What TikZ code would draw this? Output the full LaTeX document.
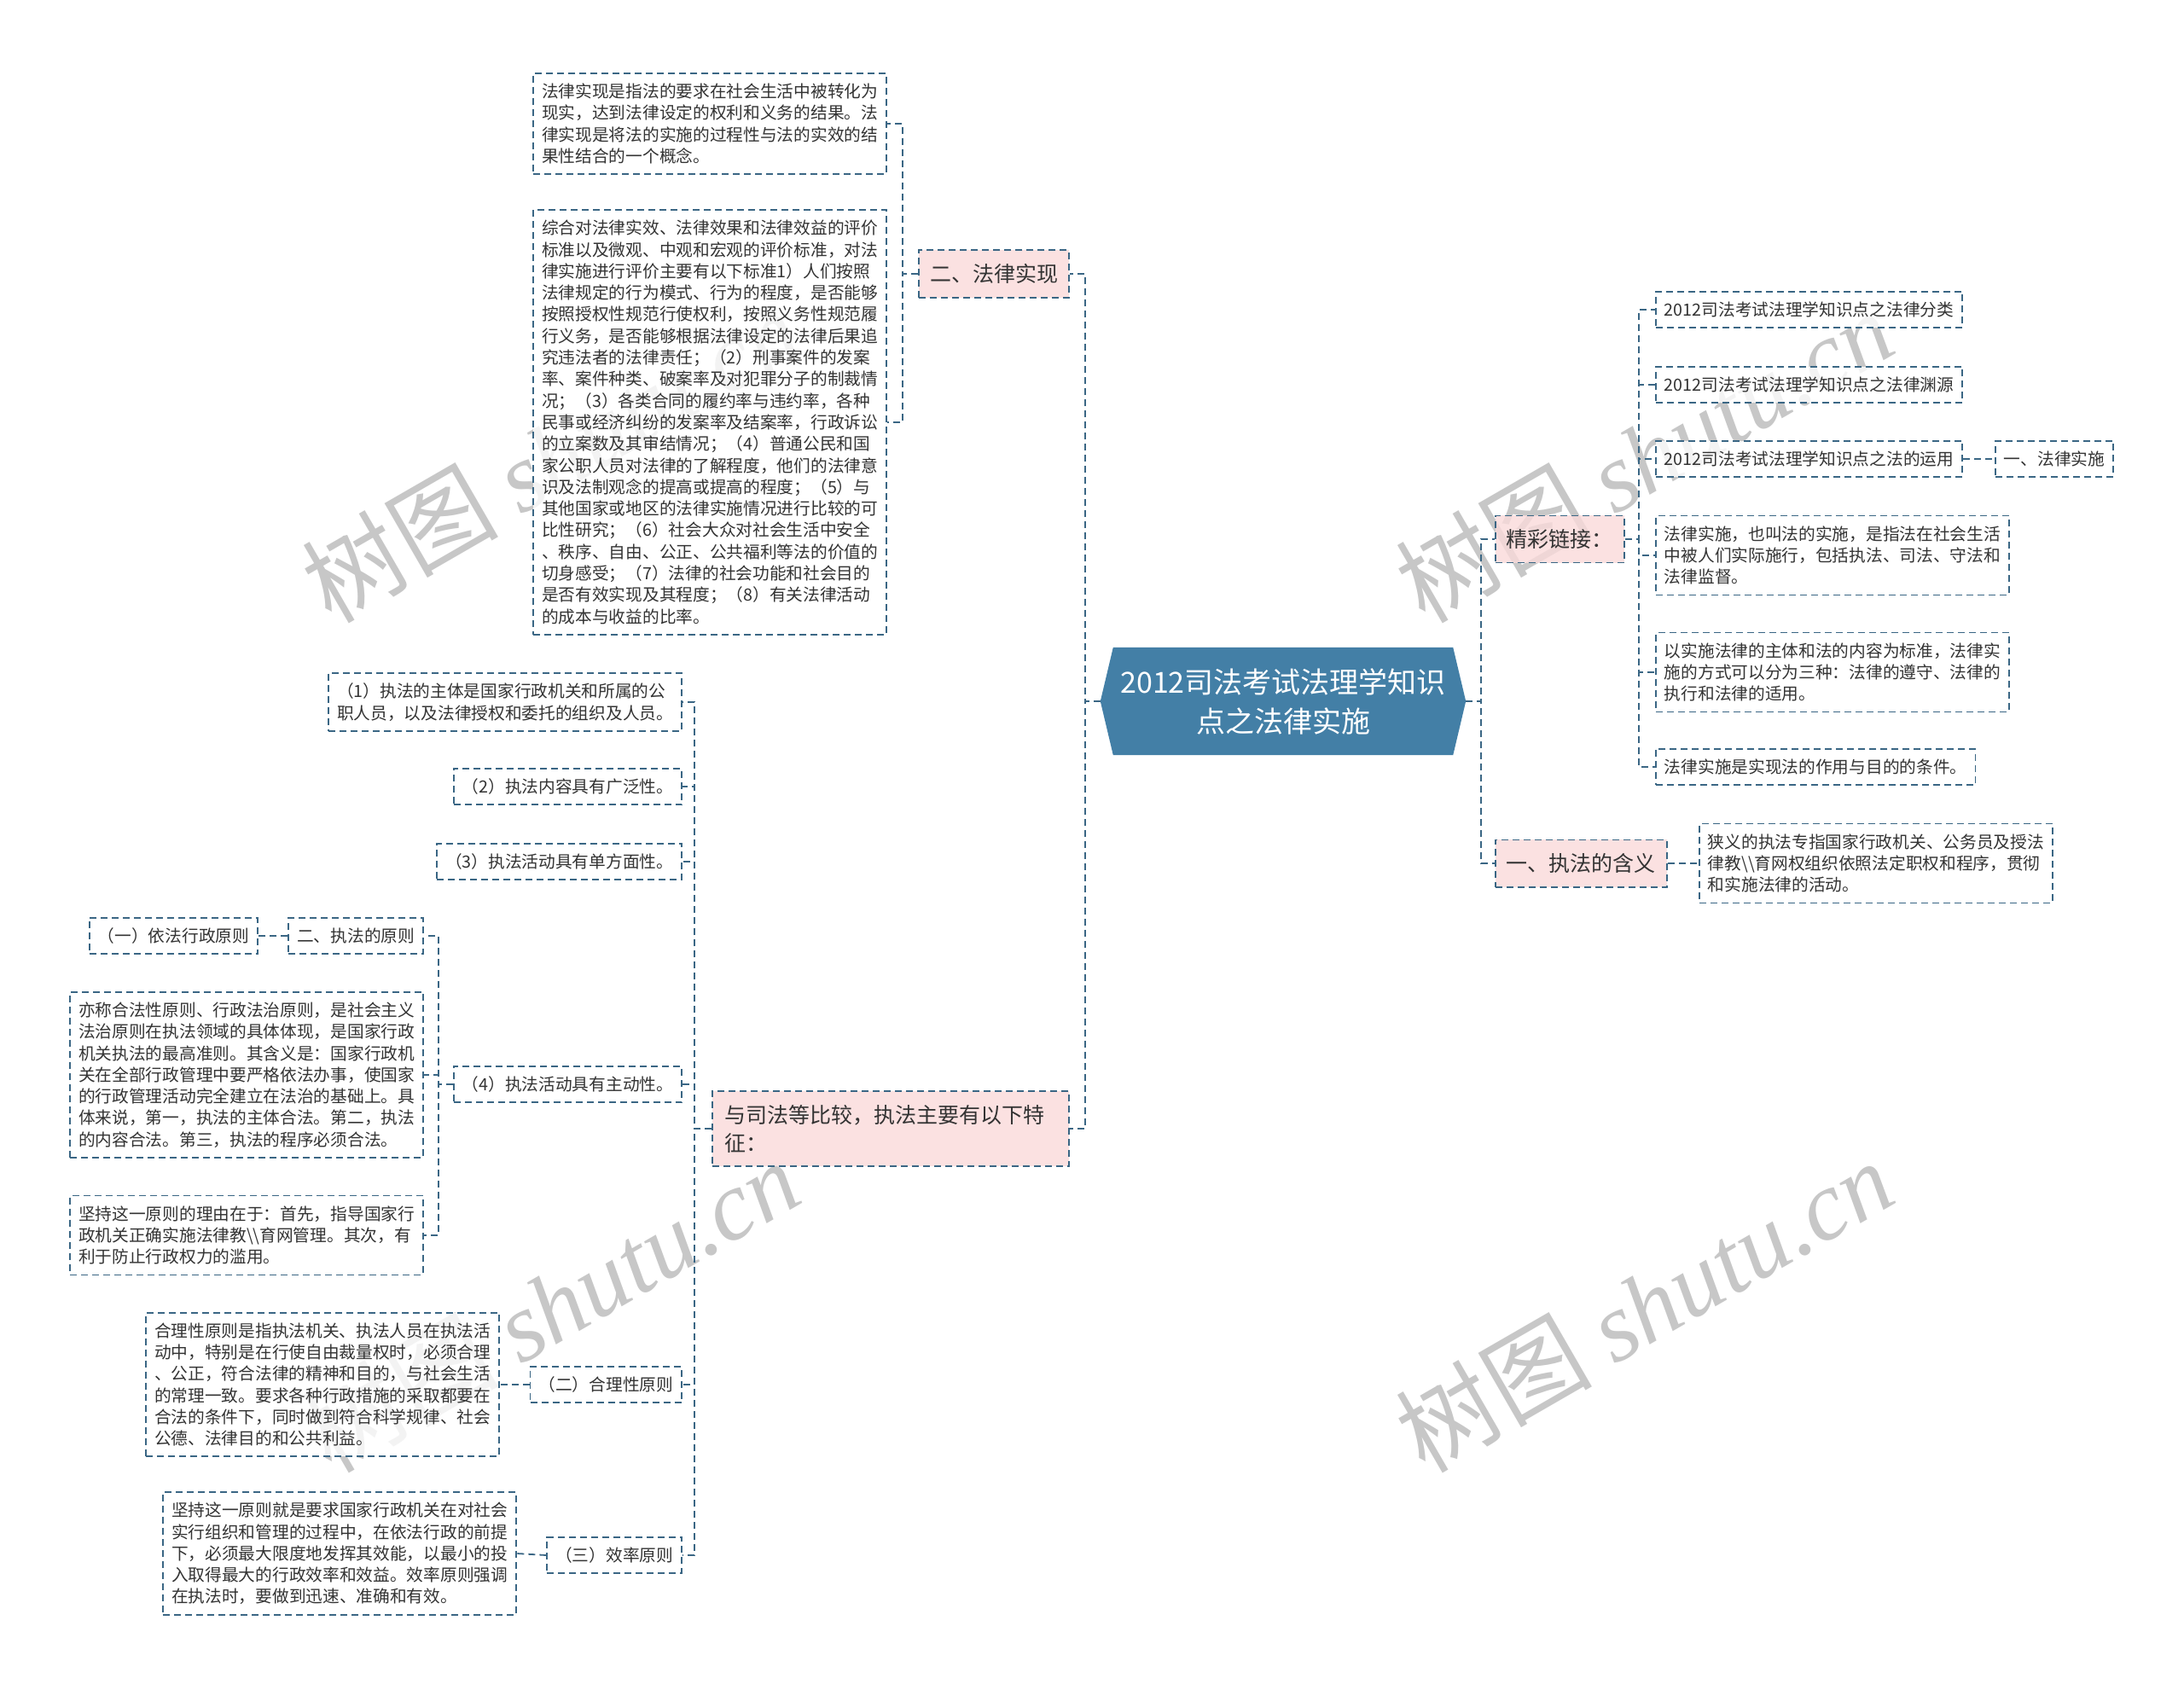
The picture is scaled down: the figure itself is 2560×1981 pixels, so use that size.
\documentclass[tikz,border=0pt]{standalone}
\usepackage{fontspec}
\setmainfont{Noto Sans CJK SC}
\newfontfamily\wmfont{Liberation Serif}
\usetikzlibrary{calc, backgrounds}
\definecolor{lineblue}{RGB}{58,102,132}
\definecolor{rootblue}{RGB}{67,127,166}
\definecolor{topicpink}{RGB}{250,218,218}
\definecolor{txtgray}{RGB}{51,51,51}

\begin{document}
\begin{tikzpicture}[x=1pt, y=-1pt,
  root/.style={minimum width=398pt, minimum height=126pt, inner sep=0pt,
               text=white, align=center, font=\fontsize{34}{46}\selectfont},
  topic/.style={draw=lineblue, line width=1.8pt, dash pattern=on 8pt off 5pt,
                fill=topicpink, fill opacity=0.8, text opacity=1, text=txtgray,
                font=\fontsize{25}{33}\selectfont, inner xsep=13pt, inner ysep=16pt, align=left},
  leaf/.style={draw=lineblue, line width=1.8pt, dash pattern=on 8pt off 5pt,
               fill=white, fill opacity=0.8, text opacity=1, text=txtgray,
               font=\fontsize{19.7}{25.3}\selectfont, inner xsep=10pt, inner ysep=12pt, align=left},
  link/.style={lineblue, line width=1.8pt, dash pattern=on 8pt off 5pt},
  wmark/.style={text=black!22, rotate=30, font=\fontsize{115}{115}\selectfont}
]
\useasboundingbox (0,0) rectangle (2560,1981);

% watermarks
\node[wmark] (wm1) at (645,534)  {树图 {\wmfont\itshape shutu.cn}};
\node[wmark] (wm2) at (1927,534) {树图 {\wmfont\itshape shutu.cn}};
\node[wmark] (wm3) at (645,1530) {树图 {\wmfont\itshape shutu.cn}};
\node[wmark] (wm4) at (1927,1530) {树图 {\wmfont\itshape shutu.cn}};

% centre
\node[root] (root) at (1504,822) {2012司法考试法理学知识\\点之法律实施};
\coordinate (rootL) at ($(root.west)+(-15,0)$);
\coordinate (rootR) at ($(root.east)+(15,0)$);
\begin{scope}[on background layer]
\fill[rootblue] (root.north west) -- (root.north east) -- (rootR) -- (root.south east)
  -- (root.south west) -- (rootL) -- cycle;
\end{scope}

% left, top branch
\node[topic, anchor=east] (fs) at (1254,321) {二、法律实现};
\node[leaf, anchor=east] (a1) at (1040,145) {法律实现是指法的要求在社会生活中被转化为\\现实，达到法律设定的权利和义务的结果。法\\律实现是将法的实施的过程性与法的实效的结\\果性结合的一个概念。};
\node[leaf, anchor=east] (a2) at (1040,495) {综合对法律实效、法律效果和法律效益的评价\\标准以及微观、中观和宏观的评价标准，对法\\律实施进行评价主要有以下标准1）人们按照\\法律规定的行为模式、行为的程度，是否能够\\按照授权性规范行使权利，按照义务性规范履\\行义务，是否能够根据法律设定的法律后果追\\究违法者的法律责任；（2）刑事案件的发案\\率、案件种类、破案率及对犯罪分子的制裁情\\况；（3）各类合同的履约率与违约率，各种\\民事或经济纠纷的发案率及结案率，行政诉讼\\的立案数及其审结情况；（4）普通公民和国\\家公职人员对法律的了解程度，他们的法律意\\识及法制观念的提高或提高的程度；（5）与\\其他国家或地区的法律实施情况进行比较的可\\比性研究；（6）社会大众对社会生活中安全\\、秩序、自由、公正、公共福利等法的价值的\\切身感受；（7）法律的社会功能和社会目的\\是否有效实现及其程度；（8）有关法律活动\\的成本与收益的比率。};

% left, bottom branch
\node[topic, anchor=east, text width=390pt, inner xsep=14pt] (cmp) at (1254,1323) {与司法等比较，执法主要有以下特\\征：};
\node[leaf, anchor=east] (b1) at (800,823) {（1）执法的主体是国家行政机关和所属的公\\职人员，以及法律授权和委托的组织及人员。};
\node[leaf, anchor=east] (b2) at (800,922) {（2）执法内容具有广泛性。};
\node[leaf, anchor=east] (b3) at (800,1010) {（3）执法活动具有单方面性。};
\node[leaf, anchor=east] (b4) at (800,1271) {（4）执法活动具有主动性。};
\node[leaf, anchor=east] (b5) at (800,1623) {（二）合理性原则};
\node[leaf, anchor=east] (b6) at (800,1823) {（三）效率原则};
\node[leaf, anchor=east] (c1) at (497,1097) {二、执法的原则};
\node[leaf, anchor=east] (c2) at (497,1260) {亦称合法性原则、行政法治原则，是社会主义\\法治原则在执法领域的具体体现，是国家行政\\机关执法的最高准则。其含义是：国家行政机\\关在全部行政管理中要严格依法办事，使国家\\的行政管理活动完全建立在法治的基础上。具\\体来说，第一，执法的主体合法。第二，执法\\的内容合法。第三，执法的程序必须合法。};
\node[leaf, anchor=east] (c3) at (497,1448) {坚持这一原则的理由在于：首先，指导国家行\\政机关正确实施法律教\textbackslash\textbackslash 育网管理。其次，有\\利于防止行政权力的滥用。};
\node[leaf, anchor=east] (d1) at (303,1097) {（一）依法行政原则};
\node[leaf, anchor=east] (e1) at (586,1623) {合理性原则是指执法机关、执法人员在执法活\\动中，特别是在行使自由裁量权时，必须合理\\、公正，符合法律的精神和目的，与社会生活\\的常理一致。要求各种行政措施的采取都要在\\合法的条件下，同时做到符合科学规律、社会\\公德、法律目的和公共利益。};
\node[leaf, anchor=east] (f1) at (606,1821) {坚持这一原则就是要求国家行政机关在对社会\\实行组织和管理的过程中，在依法行政的前提\\下，必须最大限度地发挥其效能，以最小的投\\入取得最大的行政效率和效益。效率原则强调\\在执法时，要做到迅速、准确和有效。};

% right branches
\node[topic, anchor=west] (jc) at (1752,632) {精彩链接：};
\node[topic, anchor=west] (mean) at (1752,1012) {一、执法的含义};
\node[leaf, anchor=west] (g1) at (1940,363) {2012司法考试法理学知识点之法律分类};
\node[leaf, anchor=west] (g2) at (1940,451) {2012司法考试法理学知识点之法律渊源};
\node[leaf, anchor=west] (g3) at (1940,538) {2012司法考试法理学知识点之法的运用};
\node[leaf, anchor=west] (g3a) at (2338,538) {一、法律实施};
\node[leaf, anchor=west] (g4) at (1940,651) {法律实施，也叫法的实施，是指法在社会生活\\中被人们实际施行，包括执法、司法、守法和\\法律监督。};
\node[leaf, anchor=west] (g5) at (1940,788) {以实施法律的主体和法的内容为标准，法律实\\施的方式可以分为三种：法律的遵守、法律的\\执行和法律的适用。};
\node[leaf, anchor=west] (g6) at (1940,899) {法律实施是实现法的作用与目的的条件。};
\node[leaf, anchor=west] (h1) at (1991,1012) {狭义的执法专指国家行政机关、公务员及授法\\律教\textbackslash\textbackslash 育网权组织依照法定职权和程序，贯彻\\和实施法律的活动。};

% connectors
\draw[link] (rootL) -- ++(-18,0) |- (fs.east);  \draw[link] (rootL) -- ++(-18,0) |- (cmp.east);
\draw[link] (rootR) -- ++(18,0) |- (jc.west);   \draw[link] (rootR) -- ++(18,0) |- (mean.west);
\draw[link] (fs.west) -- ++(-18,0) |- (a1.east); \draw[link] (fs.west) -- ++(-18,0) |- (a2.east);
\draw[link] (cmp.west) -- ++(-20,0) |- (b1.east); \draw[link] (cmp.west) -- ++(-20,0) |- (b2.east);
\draw[link] (cmp.west) -- ++(-20,0) |- (b3.east); \draw[link] (cmp.west) -- ++(-20,0) |- (b4.east);
\draw[link] (cmp.west) -- ++(-20,0) |- (b5.east); \draw[link] (cmp.west) -- ++(-20,0) |- (b6.east);
\draw[link] (b4.west) -- ++(-17,0) |- (c1.east); \draw[link] (b4.west) -- ++(-17,0) |- (c2.east);
\draw[link] (b4.west) -- ++(-17,0) |- (c3.east);
\draw[link] (c1.west) -- (d1.east);
\draw[link] (b5.west) -- (e1.east);  \draw[link] (b6.west) -- (f1.east);
\draw[link] (jc.east) -- ++(16,0) |- (g1.west); \draw[link] (jc.east) -- ++(16,0) |- (g2.west);
\draw[link] (jc.east) -- ++(16,0) |- (g3.west); \draw[link] (jc.east) -- ++(16,0) |- (g4.west);
\draw[link] (jc.east) -- ++(16,0) |- (g5.west); \draw[link] (jc.east) -- ++(16,0) |- (g6.west);
\draw[link] (g3.east) -- (g3a.west);
\draw[link] (mean.east) -- (h1.west);
\end{tikzpicture}
\end{document}
